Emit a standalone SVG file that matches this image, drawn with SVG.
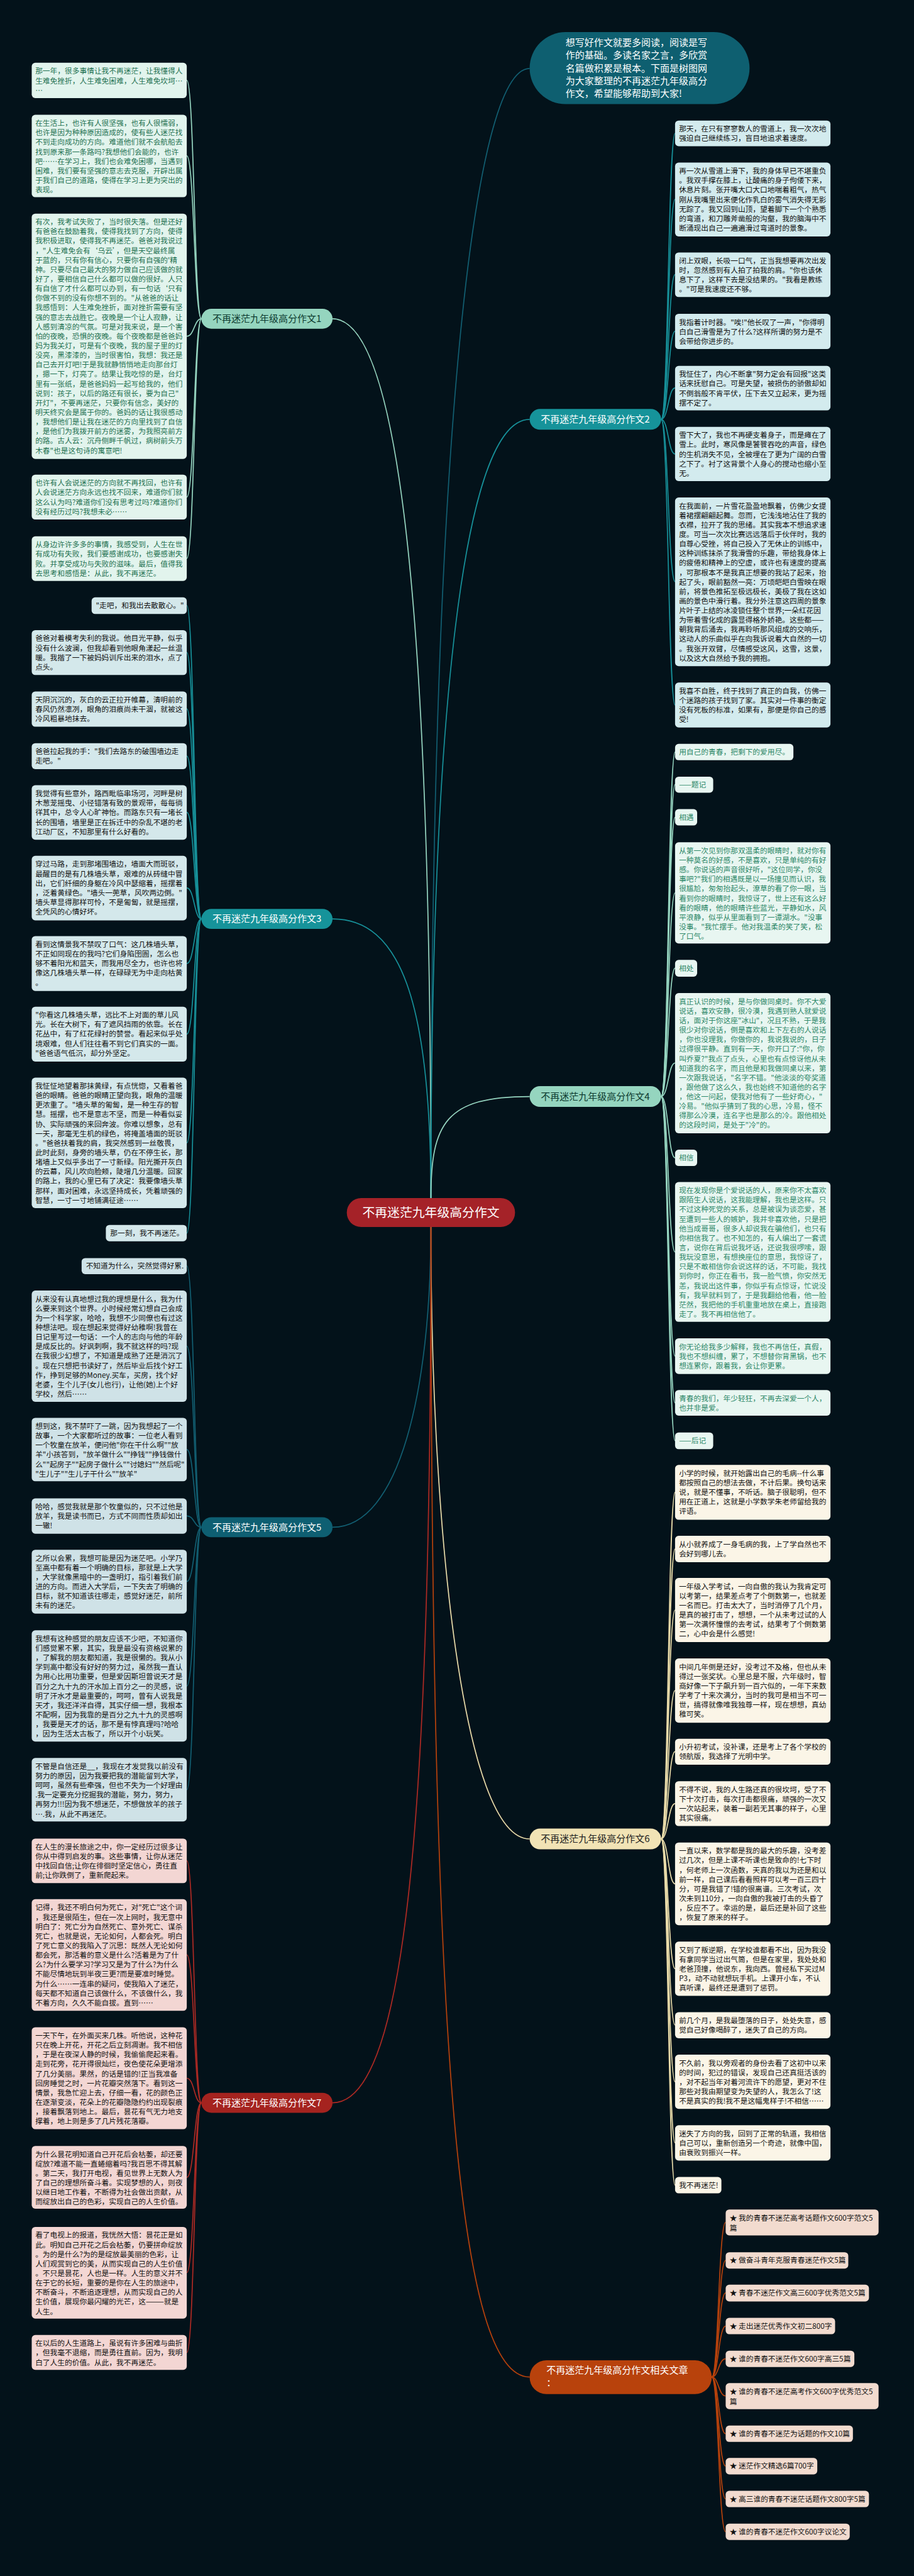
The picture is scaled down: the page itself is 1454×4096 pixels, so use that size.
<svg xmlns="http://www.w3.org/2000/svg" width="1454" height="4096" viewBox="0 0 1454 4096">
<style>
text{font-family:"Noto Sans CJK SC","Noto Sans",sans-serif;font-size:20.7px;fill:#111}
.c{fill:none;stroke-width:3}
.k1{stroke:#97d6c1}.k2{stroke:#17919a}.k5{stroke:#125f72}.k6{stroke:#eadcaa}.k7{stroke:#b02a24}.k8{stroke:#b8420c}
.b1{fill:#e2f4ed}.b2{fill:#d3ebee}.b3{fill:#d4e8eb}.b4{fill:#e8f6f1}.b5{fill:#cfe2e7}.b6{fill:#fbf5e7}.b7{fill:#f3d6d3}.b8{fill:#f2dbcf}
.g1{fill:#1f7252}.g4{fill:#2d8868}
.bn{font-size:26.5px;text-anchor:middle}
.w{fill:#ffffff}
</style>
<rect width="1454" height="4096" fill="#03121a"/>
<g transform="scale(0.567)">
<g id="connectors">
<path class="c k5" d="M1209 3360 C1209 1200 1330 192 1486 192"/>
<path class="c k1" d="M1209 3360 C1209 2000 1150 894 933 894"/>
<path class="c k2" d="M1209 3360 C1209 2000 1300 1176 1486 1176"/>
<path class="c k2" d="M1209 3360 C1209 2800 1120 2577 933 2577"/>
<path class="c k1" d="M1209 3360 C1209 3150 1250 3075 1486 3075"/>
<path class="c k5" d="M1209 3441 C1209 3900 1120 4283 933 4283"/>
<path class="c k6" d="M1209 3441 C1209 4300 1300 5157 1486 5157"/>
<path class="c k7" d="M1209 3441 C1209 5000 1150 5897 933 5897"/>
<path class="c k8" d="M1209 3441 C1209 5800 1290 6666 1486 6666"/>
<!-- 1 -->
<path class="c k1" d="M565 894 C545 894 545 225 524 225"/>
<path class="c k1" d="M565 894 C545 894 545 437 524 437"/>
<path class="c k1" d="M565 894 C545 894 545 943 524 943"/>
<path class="c k1" d="M565 894 C545 894 545 1394 524 1394"/>
<path class="c k1" d="M565 894 C545 894 545 1566 524 1566"/>
<!-- 3 -->
<path class="c k2" d="M565 2577 C545 2577 545 1698 524 1698"/>
<path class="c k2" d="M565 2577 C545 2577 545 1830 524 1830"/>
<path class="c k2" d="M565 2577 C545 2577 545 1988 524 1988"/>
<path class="c k2" d="M565 2577 C545 2577 545 2120 524 2120"/>
<path class="c k2" d="M565 2577 C545 2577 545 2278 524 2278"/>
<path class="c k2" d="M565 2577 C545 2577 545 2490 524 2490"/>
<path class="c k2" d="M565 2577 C545 2577 545 2702 524 2702"/>
<path class="c k2" d="M565 2577 C545 2577 545 2900 524 2900"/>
<path class="c k2" d="M565 2577 C545 2577 545 3205 524 3205"/>
<path class="c k2" d="M565 2577 C545 2577 545 3458 524 3458"/>
<!-- 5 -->
<path class="c k5" d="M565 4283 C545 4283 545 3550 524 3550"/>
<path class="c k5" d="M565 4283 C545 4283 545 3775 524 3775"/>
<path class="c k5" d="M565 4283 C545 4283 545 4065 524 4065"/>
<path class="c k5" d="M565 4283 C545 4283 545 4251 524 4251"/>
<path class="c k5" d="M565 4283 C545 4283 545 4435 524 4435"/>
<path class="c k5" d="M565 4283 C545 4283 545 4728 524 4728"/>
<path class="c k5" d="M565 4283 C545 4283 545 5019 524 5019"/>
<!-- 7 -->
<path class="c k7" d="M565 5897 C545 5897 545 5218 524 5218"/>
<path class="c k7" d="M565 5897 C545 5897 545 5482 524 5482"/>
<path class="c k7" d="M565 5897 C545 5897 545 5828 524 5828"/>
<path class="c k7" d="M565 5897 C545 5897 545 6106 524 6106"/>
<path class="c k7" d="M565 5897 C545 5897 545 6373 524 6373"/>
<path class="c k7" d="M565 5897 C545 5897 545 6597 524 6597"/>
<!-- 2 -->
<path class="c k2" d="M1855 1176 C1875 1176 1875 374 1894 374"/>
<path class="c k2" d="M1855 1176 C1875 1176 1875 559 1894 559"/>
<path class="c k2" d="M1855 1176 C1875 1176 1875 770 1894 770"/>
<path class="c k2" d="M1855 1176 C1875 1176 1875 929 1894 929"/>
<path class="c k2" d="M1855 1176 C1875 1176 1875 1088 1894 1088"/>
<path class="c k2" d="M1855 1176 C1875 1176 1875 1273 1894 1273"/>
<path class="c k2" d="M1855 1176 C1875 1176 1875 1631 1894 1631"/>
<path class="c k2" d="M1855 1176 C1875 1176 1875 1977 1894 1977"/>
<!-- 4 -->
<path class="c k1" d="M1855 3075 C1875 3075 1875 2109 1894 2109"/>
<path class="c k1" d="M1855 3075 C1875 3075 1875 2200 1894 2200"/>
<path class="c k1" d="M1855 3075 C1875 3075 1875 2292 1894 2292"/>
<path class="c k1" d="M1855 3075 C1875 3075 1875 2504 1894 2504"/>
<path class="c k1" d="M1855 3075 C1875 3075 1875 2715 1894 2715"/>
<path class="c k1" d="M1855 3075 C1875 3075 1875 2981 1894 2981"/>
<path class="c k1" d="M1855 3075 C1875 3075 1875 3247 1894 3247"/>
<path class="c k1" d="M1855 3075 C1875 3075 1875 3511 1894 3511"/>
<path class="c k1" d="M1855 3075 C1875 3075 1875 3803 1894 3803"/>
<path class="c k1" d="M1855 3075 C1875 3075 1875 3934 1894 3934"/>
<path class="c k1" d="M1855 3075 C1875 3075 1875 4040 1894 4040"/>
<!-- 6 -->
<path class="c k6" d="M1855 5157 C1875 5157 1875 4185 1894 4185"/>
<path class="c k6" d="M1855 5157 C1875 5157 1875 4344 1894 4344"/>
<path class="c k6" d="M1855 5157 C1875 5157 1875 4515 1894 4515"/>
<path class="c k6" d="M1855 5157 C1875 5157 1875 4741 1894 4741"/>
<path class="c k6" d="M1855 5157 C1875 5157 1875 4912 1894 4912"/>
<path class="c k6" d="M1855 5157 C1875 5157 1875 5058 1894 5058"/>
<path class="c k6" d="M1855 5157 C1875 5157 1875 5283 1894 5283"/>
<path class="c k6" d="M1855 5157 C1875 5157 1875 5521 1894 5521"/>
<path class="c k6" d="M1855 5157 C1875 5157 1875 5679 1894 5679"/>
<path class="c k6" d="M1855 5157 C1875 5157 1875 5838 1894 5838"/>
<path class="c k6" d="M1855 5157 C1875 5157 1875 6009 1894 6009"/>
<path class="c k6" d="M1855 5157 C1875 5157 1875 6128 1894 6128"/>
<!-- related -->
<path class="c k8" d="M1997 6666 C2016 6666 2016 6232 2036 6232"/>
<path class="c k8" d="M1997 6666 C2016 6666 2016 6339 2036 6339"/>
<path class="c k8" d="M1997 6666 C2016 6666 2016 6430 2036 6430"/>
<path class="c k8" d="M1997 6666 C2016 6666 2016 6523 2036 6523"/>
<path class="c k8" d="M1997 6666 C2016 6666 2016 6615 2036 6615"/>
<path class="c k8" d="M1997 6666 C2016 6666 2016 6719 2036 6719"/>
<path class="c k8" d="M1997 6666 C2016 6666 2016 6825 2036 6825"/>
<path class="c k8" d="M1997 6666 C2016 6666 2016 6916 2036 6916"/>
<path class="c k8" d="M1997 6666 C2016 6666 2016 7008 2036 7008"/>
<path class="c k8" d="M1997 6666 C2016 6666 2016 7100 2036 7100"/>
</g>

<g id="center"><rect x="973" y="3360" width="472" height="81" rx="40" fill="#a52228"/><text x="1209" y="3412" class="w" style="font-size:35px;text-anchor:middle">不再迷茫九年级高分作文</text></g>

<g id="intro"><rect x="1486" y="90" width="617" height="202" rx="101" fill="#0e5f70"/><text x="1587" y="129" class="w" style="font-size:26.5px"><tspan x="1587">想写好作文就要多阅读，阅读是写</tspan><tspan x="1587" dy="35.6">作的基础。多读名家之言，多欣赏</tspan><tspan x="1587" dy="35.6">名篇做积累是根本。下面是树图网</tspan><tspan x="1587" dy="35.6">为大家整理的不再迷茫九年级高分</tspan><tspan x="1587" dy="35.6">作文，希望能够帮助到大家!</tspan></text></g>

<g id="branch1"><rect x="565" y="866" width="368" height="56" rx="28" fill="#95d5bf"/><text x="749" y="903" class="bn" style="fill:#0d3b30">不再迷茫九年级高分作文1</text></g>
<g id="branch3"><rect x="565" y="2549" width="368" height="56" rx="28" fill="#16939a"/><text x="749" y="2586" class="bn w">不再迷茫九年级高分作文3</text></g>
<g id="branch5"><rect x="565" y="4255" width="368" height="56" rx="28" fill="#0e5f72"/><text x="749" y="4292" class="bn w">不再迷茫九年级高分作文5</text></g>
<g id="branch7"><rect x="565" y="5869" width="368" height="56" rx="28" fill="#a5231f"/><text x="749" y="5906" class="bn w">不再迷茫九年级高分作文7</text></g>
<g id="branch2"><rect x="1486" y="1147" width="369" height="58" rx="29" fill="#16939a"/><text x="1670" y="1185" class="bn w">不再迷茫九年级高分作文2</text></g>
<g id="branch4"><rect x="1486" y="3046" width="369" height="58" rx="29" fill="#95d5bf"/><text x="1670" y="3084" class="bn" style="fill:#0d3b30">不再迷茫九年级高分作文4</text></g>
<g id="branch6"><rect x="1486" y="5128" width="369" height="58" rx="29" fill="#f1e3b5"/><text x="1670" y="5166" class="bn" style="fill:#222">不再迷茫九年级高分作文6</text></g>
<g id="branch8"><rect x="1486" y="6619" width="511" height="95" rx="47" fill="#b8420c"/><text x="1533" y="6656" class="w" style="font-size:26.5px"><tspan x="1533">不再迷茫九年级高分作文相关文章</tspan><tspan x="1533" dy="36">：</tspan></text></g>

<!-- branch 1 children -->
<g id="n1a"><rect class="b1" x="89" y="176" width="435" height="99" rx="10"/><text class="g1" x="99" y="207"><tspan x="99">那一年，很多事情让我不再迷茫，让我懂得人</tspan><tspan x="99" dy="26.7">生难免挫折，人生难免困难，人生难免坎坷…</tspan><tspan x="99" dy="26.7">…</tspan></text></g>
<g id="n1b"><rect class="b1" x="89" y="322" width="435" height="231" rx="10"/><text class="g1" x="99" y="353"><tspan x="99">在生活上，也许有人很坚强，也有人很懦弱，</tspan><tspan x="99" dy="26.7">也许是因为种种原因造成的，使有些人迷茫找</tspan><tspan x="99" dy="26.7">不到走向成功的方向。难道他们就不会航船去</tspan><tspan x="99" dy="26.7">找到原来那一条路吗?我想他们会能的，也许</tspan><tspan x="99" dy="26.7">吧……在学习上，我们也会难免困哪，当遇到</tspan><tspan x="99" dy="26.7">困难，我们要有坚强的意志去克服，开辟出属</tspan><tspan x="99" dy="26.7">于我们自己的道路，使得在学习上更为突出的</tspan><tspan x="99" dy="26.7">表现。</tspan></text></g>
<g id="n1c"><rect class="b1" x="89" y="599" width="435" height="688" rx="10"/><text class="g1" x="99" y="630"><tspan x="99">有次，我考试失败了，当时很失落。但是还好</tspan><tspan x="99" dy="26.7">有爸爸在鼓励着我，使得我找到了方向，使得</tspan><tspan x="99" dy="26.7">我积极进取，使得我不再迷茫。爸爸对我说过</tspan><tspan x="99" dy="26.7">，"人生难免会有‘乌云’，但是天空最终属</tspan><tspan x="99" dy="26.7">于蓝的，只有你有信心，只要你有自强的'精</tspan><tspan x="99" dy="26.7">神。只要尽自己最大的努力做自己应该做的就</tspan><tspan x="99" dy="26.7">好了，要相信自己什么都可以做的很好。人只</tspan><tspan x="99" dy="26.7">有自信了才什么都可以办到，有一句话‘只有</tspan><tspan x="99" dy="26.7">你做不到的没有你想不到的。"从爸爸的话让</tspan><tspan x="99" dy="26.7">我感悟到：人生难免挫折，面对挫折需要有坚</tspan><tspan x="99" dy="26.7">强的意志去战胜它。夜晚是一个让人寂静，让</tspan><tspan x="99" dy="26.7">人感到清凉的气氛。可是对我来说，是一个害</tspan><tspan x="99" dy="26.7">怕的夜晚，恐惧的夜晚。每个夜晚都是爸爸妈</tspan><tspan x="99" dy="26.7">妈为我关灯，可是有个夜晚，我的屋子里的灯</tspan><tspan x="99" dy="26.7">没亮，黑漆漆的，当时很害怕，我想：我还是</tspan><tspan x="99" dy="26.7">自己去开灯吧!于是我就静悄悄地走向那台灯</tspan><tspan x="99" dy="26.7">，摁一下，灯亮了。结果让我吃惊的是，台灯</tspan><tspan x="99" dy="26.7">里有一张纸，是爸爸妈妈一起写给我的，他们</tspan><tspan x="99" dy="26.7">说到：孩子，以后的路还有很长，要为自己"</tspan><tspan x="99" dy="26.7">开灯"，不要再迷茫，只要你有信念，美好的</tspan><tspan x="99" dy="26.7">明天终究会是属于你的。爸妈的话让我很感动</tspan><tspan x="99" dy="26.7">，我想他们是让我在迷茫的方向里找到了自信</tspan><tspan x="99" dy="26.7">，是他们为我拨开前方的迷雾，为我照亮前方</tspan><tspan x="99" dy="26.7">的路。古人云：沉舟侧畔千帆过，病树前头万</tspan><tspan x="99" dy="26.7">木春"也是这句诗的寓意吧!</tspan></text></g>
<g id="n1d"><rect class="b1" x="89" y="1331" width="435" height="126" rx="10"/><text class="g1" x="99" y="1362"><tspan x="99">也许有人会说迷茫的方向就不再找回，也许有</tspan><tspan x="99" dy="26.7">人会说迷茫方向永远也找不回来，难道你们就</tspan><tspan x="99" dy="26.7">这么认为吗?难道你们没有思考过吗?难道你们</tspan><tspan x="99" dy="26.7">没有经历过吗?我想未必……</tspan></text></g>
<g id="n1e"><rect class="b1" x="89" y="1504" width="435" height="125" rx="10"/><text class="g1" x="99" y="1535"><tspan x="99">从身边许许多多的事情，我感受到，人生在世</tspan><tspan x="99" dy="26.7">有成功有失败，我们要感谢成功，也要感谢失</tspan><tspan x="99" dy="26.7">败。并享受成功与失败的滋味。最后，值得我</tspan><tspan x="99" dy="26.7">去思考和感悟是：从此，我不再迷茫。</tspan></text></g>

<!-- branch 3 children -->
<g id="n3a"><rect class="b3" x="257" y="1675" width="267" height="47" rx="10"/><text x="269" y="1706">"走吧，和我出去散散心。"</text></g>
<g id="n3b"><rect class="b3" x="89" y="1767" width="435" height="126" rx="10"/><text x="99" y="1798"><tspan x="99">爸爸对着模考失利的我说。他目光平静，似乎</tspan><tspan x="99" dy="26.7">没有什么波澜，但我却看到他眼角漾起一丝温</tspan><tspan x="99" dy="26.7">暖。我揩了一下被妈妈训斥出来的泪水，点了</tspan><tspan x="99" dy="26.7">点头。</tspan></text></g>
<g id="n3c"><rect class="b3" x="89" y="1939" width="435" height="99" rx="10"/><text x="99" y="1970"><tspan x="99">天阴沉沉的，灰白的云正拉开帷幕，清明前的</tspan><tspan x="99" dy="26.7">春风仍然凛冽，眼角的泪痕尚未干涸，就被这</tspan><tspan x="99" dy="26.7">冷风粗暴地抹去。</tspan></text></g>
<g id="n3d"><rect class="b3" x="89" y="2084" width="435" height="73" rx="10"/><text x="99" y="2115"><tspan x="99">爸爸拉起我的手："我们去路东的破围墙边走</tspan><tspan x="99" dy="26.7">走吧。"</tspan></text></g>
<g id="n3e"><rect class="b3" x="89" y="2202" width="435" height="153" rx="10"/><text x="99" y="2233"><tspan x="99">我觉得有些意外，路西毗临串场河，河畔是树</tspan><tspan x="99" dy="26.7">木葱茏摇曳、小径错落有致的景观带，每每徜</tspan><tspan x="99" dy="26.7">徉其中，总令人心旷神怡。而路东只有一堵长</tspan><tspan x="99" dy="26.7">长的围墙，墙里是正在拆迁中的杂乱不堪的老</tspan><tspan x="99" dy="26.7">江动厂区，不知那里有什么好看的。</tspan></text></g>
<g id="n3f"><rect class="b3" x="89" y="2400" width="435" height="181" rx="10"/><text x="99" y="2431"><tspan x="99">穿过马路，走到那堵围墙边，墙面大而斑驳，</tspan><tspan x="99" dy="26.7">最醒目的是有几株墙头草，艰难的从砖缝中冒</tspan><tspan x="99" dy="26.7">出，它们纤细的身躯在冷风中瑟缩着，摇摆着</tspan><tspan x="99" dy="26.7">，泛着黄绿色。"墙头一蔸草，风吹两边倒。"</tspan><tspan x="99" dy="26.7">墙头草显得那样可怜，不是匍匐，就是摇摆，</tspan><tspan x="99" dy="26.7">全凭风的心情好坏。</tspan></text></g>
<g id="n3g"><rect class="b3" x="89" y="2625" width="435" height="154" rx="10"/><text x="99" y="2656"><tspan x="99">看到这情景我不禁叹了口气：这几株墙头草，</tspan><tspan x="99" dy="26.7">不正如同现在的我吗?它们身陷囹圄，怎么也</tspan><tspan x="99" dy="26.7">够不着阳光和蓝天，而我用尽全力，也许也将</tspan><tspan x="99" dy="26.7">像这几株墙头草一样，在碌碌无为中走向枯黄</tspan><tspan x="99" dy="26.7">。</tspan></text></g>
<g id="n3h"><rect class="b3" x="89" y="2823" width="435" height="154" rx="10"/><text x="99" y="2854"><tspan x="99">"你看这几株墙头草，远比不上对面的草儿风</tspan><tspan x="99" dy="26.7">光。长在大树下，有了遮风挡雨的依靠。长在</tspan><tspan x="99" dy="26.7">花丛中，有了红花绿衬的赞誉。看起来似乎处</tspan><tspan x="99" dy="26.7">境艰难，但人们往往看不到它们真实的一面。</tspan><tspan x="99" dy="26.7">"爸爸语气低沉，却分外坚定。</tspan></text></g>
<g id="n3i"><rect class="b3" x="89" y="3022" width="435" height="366" rx="10"/><text x="99" y="3053"><tspan x="99">我怔怔地望着那抹黄绿，有点恍惚，又看着爸</tspan><tspan x="99" dy="26.7">爸的眼睛。爸爸的眼睛正望向我，眼角的温暖</tspan><tspan x="99" dy="26.7">更浓重了。"墙头草的匍匐，是一种生存的智</tspan><tspan x="99" dy="26.7">慧。摇摆，也不是意志不坚，而是一种看似妥</tspan><tspan x="99" dy="26.7">协、实际顽强的来回奔波。你难以想象，总有</tspan><tspan x="99" dy="26.7">一天，那毫无生机的绿色，将掩盖墙面的斑驳</tspan><tspan x="99" dy="26.7">。"爸爸扶着我的肩，我突然感到一丝敬畏，</tspan><tspan x="99" dy="26.7">此时此刻，身旁的墙头草，仍在不停生长，那</tspan><tspan x="99" dy="26.7">堵墙上又似乎多出了一寸新绿。阳光撕开灰白</tspan><tspan x="99" dy="26.7">的云幕，风儿吹向脸颊，陡增几分温暖。回家</tspan><tspan x="99" dy="26.7">的路上，我的心里已有了决定：我要像墙头草</tspan><tspan x="99" dy="26.7">那样，面对困难，永远坚持成长，凭着顽强的</tspan><tspan x="99" dy="26.7">智慧，一寸一寸地铺满征途……</tspan></text></g>
<g id="n3j"><rect class="b3" x="297" y="3435" width="227" height="46" rx="10"/><text x="309" y="3466">那一刻，我不再迷茫。</text></g>

<!-- branch 5 children -->
<g id="n5a"><rect class="b5" x="229" y="3528" width="295" height="45" rx="10"/><text x="241" y="3558">不知道为什么，突然觉得好累.</text></g>
<g id="n5b"><rect class="b5" x="89" y="3619" width="435" height="312" rx="10"/><text x="99" y="3650"><tspan x="99">从来没有认真地想过我的理想是什么，我为什</tspan><tspan x="99" dy="26.7">么要来到这个世界。小时候经常幻想自己会成</tspan><tspan x="99" dy="26.7">为一个科学家，哈哈，我想不少同僚也有过这</tspan><tspan x="99" dy="26.7">种想法吧。现在想起来觉得好幼稚啊!我曾在</tspan><tspan x="99" dy="26.7">日记里写过一句话：一个人的志向与他的年龄</tspan><tspan x="99" dy="26.7">是成反比的。好讽刺啊，我不就这样的吗?现</tspan><tspan x="99" dy="26.7">在我很少幻想了，不知道是成熟了还是消沉了</tspan><tspan x="99" dy="26.7">。现在只想把书读好了，然后毕业后找个好工</tspan><tspan x="99" dy="26.7">作，挣到足够的Money.买车，买房，找个好</tspan><tspan x="99" dy="26.7">老婆，生个儿子(女儿也行)，让他(她)上个好</tspan><tspan x="99" dy="26.7">学校，然后……</tspan></text></g>
<g id="n5c"><rect class="b5" x="89" y="3976" width="435" height="178" rx="10"/><text x="99" y="4007"><tspan x="99">想到这，我不禁吓了一跳，因为我想起了一个</tspan><tspan x="99" dy="26.7">故事，一个大家都听过的故事：一位老人看到</tspan><tspan x="99" dy="26.7">一个牧童在放羊，便问他"你在干什么啊""放</tspan><tspan x="99" dy="26.7">羊"小孩答到，"放羊做什么""挣钱""挣钱做什</tspan><tspan x="99" dy="26.7">么""起房子""起房子做什么""讨媳妇""然后呢"</tspan><tspan x="99" dy="26.7">"生儿子""生儿子干什么""放羊"</tspan></text></g>
<g id="n5d"><rect class="b5" x="89" y="4202" width="435" height="99" rx="10"/><text x="99" y="4233"><tspan x="99">哈哈，感觉我就是那个牧童似的，只不过他是</tspan><tspan x="99" dy="26.7">放羊，我是读书而已，方式不同而性质却如出</tspan><tspan x="99" dy="26.7">一辙!</tspan></text></g>
<g id="n5e"><rect class="b5" x="89" y="4346" width="435" height="179" rx="10"/><text x="99" y="4377"><tspan x="99">之所以会累，我想可能是因为迷茫吧。小学乃</tspan><tspan x="99" dy="26.7">至高中都有着一个明确的目标，那就是上大学</tspan><tspan x="99" dy="26.7">，大学就像黑暗中的一盏明灯，指引着我们前</tspan><tspan x="99" dy="26.7">进的方向。而进入大学后，一下失去了明确的</tspan><tspan x="99" dy="26.7">目标，就不知道该往哪走，感觉好迷茫，前所</tspan><tspan x="99" dy="26.7">未有的迷茫。</tspan></text></g>
<g id="n5f"><rect class="b5" x="89" y="4572" width="435" height="312" rx="10"/><text x="99" y="4603"><tspan x="99">我想有这种感觉的朋友应该不少吧，不知道你</tspan><tspan x="99" dy="26.7">们感觉累不累，其实，我是最没有资格说累的</tspan><tspan x="99" dy="26.7">，了解我的朋友都知道，我是很懒的。我从小</tspan><tspan x="99" dy="26.7">学到高中都没有好好的努力过，虽然我一直认</tspan><tspan x="99" dy="26.7">为用心比用功重要，但是爱因斯坦曾说天才是</tspan><tspan x="99" dy="26.7">百分之九十九的汗水加上百分之一的灵感，说</tspan><tspan x="99" dy="26.7">明了汗水才是最重要的，呵呵，曾有人说我是</tspan><tspan x="99" dy="26.7">天才，我还洋洋自得，其实仔细一想，我根本</tspan><tspan x="99" dy="26.7">不配啊，因为我靠的是百分之九十九的灵感啊</tspan><tspan x="99" dy="26.7">，我要是天才的话，那不是有悖真理吗?哈哈</tspan><tspan x="99" dy="26.7">，因为生活太古板了，所以开个小玩笑。</tspan></text></g>
<g id="n5g"><rect class="b5" x="89" y="4930" width="435" height="178" rx="10"/><text x="99" y="4961"><tspan x="99">不管是自信还是__，我现在才发觉我以前没有</tspan><tspan x="99" dy="26.7">努力的原因，因为我要把我的潜能留到大学，</tspan><tspan x="99" dy="26.7">呵呵，虽然有些牵强，但也不失为一个好理由</tspan><tspan x="99" dy="26.7">.我一定要充分挖掘我的潜能，努力，努力，</tspan><tspan x="99" dy="26.7">再努力!!!因为我不想迷茫，不想做放羊的孩子</tspan><tspan x="99" dy="26.7">….我，从此不再迷茫。</tspan></text></g>

<!-- branch 7 children -->
<g id="n7a"><rect class="b7" x="89" y="5156" width="435" height="125" rx="10"/><text x="99" y="5187"><tspan x="99">在人生的漫长旅途之中，你一定经历过很多让</tspan><tspan x="99" dy="26.7">你从中得到启发的事。这些事情，让你从迷茫</tspan><tspan x="99" dy="26.7">中找回自信;让你在徘徊时坚定信心，勇往直</tspan><tspan x="99" dy="26.7">前;让你跌倒了，重新爬起来。</tspan></text></g>
<g id="n7b"><rect class="b7" x="89" y="5326" width="435" height="313" rx="10"/><text x="99" y="5357"><tspan x="99">记得，我还不明白何为死亡，对"死亡"这个词</tspan><tspan x="99" dy="26.7">，我还是很陌生，但在一次上网时，我无意中</tspan><tspan x="99" dy="26.7">明白了：死亡分为自然死亡、意外死亡、谋杀</tspan><tspan x="99" dy="26.7">死亡，也就是说，无论如何，人都会死。明白</tspan><tspan x="99" dy="26.7">了死亡意义的我陷入了沉思：既然人无论如何</tspan><tspan x="99" dy="26.7">都会死，那活着的意义是什么?活着是为了什</tspan><tspan x="99" dy="26.7">么?为什么要学习?学习又是为了什么?为什么</tspan><tspan x="99" dy="26.7">不能尽情地玩到半夜三更?而是要准时睡觉。</tspan><tspan x="99" dy="26.7">为什么……一连串的疑问，使我陷入了迷茫，</tspan><tspan x="99" dy="26.7">每天都不知道自己该做什么，不该做什么，我</tspan><tspan x="99" dy="26.7">不着方向，久久不能自拔。直到……</tspan></text></g>
<g id="n7c"><rect class="b7" x="89" y="5685" width="435" height="286" rx="10"/><text x="99" y="5716"><tspan x="99">一天下午，在外面买来几株。听他说，这种花</tspan><tspan x="99" dy="26.7">只在晚上开花，开花之后立刻凋谢。我不相信</tspan><tspan x="99" dy="26.7">，于是在夜深人静的时候，我偷偷爬起来看。</tspan><tspan x="99" dy="26.7">走到花旁，花开得很灿烂，夜色使花朵更增添</tspan><tspan x="99" dy="26.7">了几分美丽。果然，的话是错的!正当我准备</tspan><tspan x="99" dy="26.7">回房睡觉之时，一片花瓣突然落下。看到这一</tspan><tspan x="99" dy="26.7">情景，我急忙迎上去，仔细一看，花的颜色正</tspan><tspan x="99" dy="26.7">在逐渐变淡，花朵上的花瓣隐隐约约出现裂痕</tspan><tspan x="99" dy="26.7">，接着飘落到地上。最后，昙花有气无力地支</tspan><tspan x="99" dy="26.7">撑着，地上则是多了几片残花落瓣。</tspan></text></g>
<g id="n7d"><rect class="b7" x="89" y="6018" width="435" height="176" rx="10"/><text x="99" y="6049"><tspan x="99">为什么昙花明知道自己开花后会枯萎，却还要</tspan><tspan x="99" dy="26.7">绽放?难道不能一直蜷缩着吗?我百思不得其解</tspan><tspan x="99" dy="26.7">。第二天，我打开电视，看见世界上无数人为</tspan><tspan x="99" dy="26.7">了自己的理想所奋斗着。实现梦想的人，则夜</tspan><tspan x="99" dy="26.7">以继日地工作着，不断得为社会做出贡献，从</tspan><tspan x="99" dy="26.7">而绽放出自己的色彩，实现自己的人生价值。</tspan></text></g>
<g id="n7e"><rect class="b7" x="89" y="6245" width="435" height="257" rx="10"/><text x="99" y="6276"><tspan x="99">看了电视上的报道，我恍然大悟：昙花正是如</tspan><tspan x="99" dy="26.7">此。明知自己开花之后会枯萎，仍要拼命绽放</tspan><tspan x="99" dy="26.7">。为的是什么?为的是绽放最美丽的色彩，让</tspan><tspan x="99" dy="26.7">人们观赏到它的美，从而实现自己的人生价值</tspan><tspan x="99" dy="26.7">。不只是昙花，人也是一样。人生的意义并不</tspan><tspan x="99" dy="26.7">在于它的长短，重要的是你在人生的旅途中，</tspan><tspan x="99" dy="26.7">不断奋斗，不断追逐理想，从而实现自己的人</tspan><tspan x="99" dy="26.7">生价值，展现你最闪耀的光芒，这———就是</tspan><tspan x="99" dy="26.7">人生。</tspan></text></g>
<g id="n7f"><rect class="b7" x="89" y="6548" width="435" height="98" rx="10"/><text x="99" y="6579"><tspan x="99">在以后的人生道路上，虽说有许多困难与曲折</tspan><tspan x="99" dy="26.7">，但我毫不退缩，而是勇往直前。因为，我明</tspan><tspan x="99" dy="26.7">白了人生的价值。从此，我不再迷茫。</tspan></text></g>

<!-- branch 2 children -->
<g id="n2a"><rect class="b2" x="1894" y="338" width="436" height="72" rx="10"/><text x="1905" y="369"><tspan x="1905">那天，在只有寥寥数人的雪道上，我一次次地</tspan><tspan x="1905" dy="26.7">强迫自己继续练习，盲目地追求着速度。</tspan></text></g>
<g id="n2b"><rect class="b2" x="1894" y="456" width="436" height="207" rx="10"/><text x="1905" y="487"><tspan x="1905">再一次从雪道上滑下，我的身体早已不堪重负</tspan><tspan x="1905" dy="26.7">。我双手撑在膝上，让酸痛的身子佝偻下来，</tspan><tspan x="1905" dy="26.7">休息片刻。张开嘴大口大口地喘着粗气，热气</tspan><tspan x="1905" dy="26.7">刚从我嘴里出来便化作乳白的雾气消失得无影</tspan><tspan x="1905" dy="26.7">无踪了。我又回到山顶，望着脚下一个个熟悉</tspan><tspan x="1905" dy="26.7">的弯道，和刀雕斧凿般的沟壑，我的脑海中不</tspan><tspan x="1905" dy="26.7">断涌现出自己一遍遍滑过弯道时的景象。</tspan></text></g>
<g id="n2c"><rect class="b2" x="1894" y="708" width="436" height="125" rx="10"/><text x="1905" y="739"><tspan x="1905">闭上双眼，长吸一口气，正当我想要再次出发</tspan><tspan x="1905" dy="26.7">时，忽然感到有人拍了拍我的肩。"你也该休</tspan><tspan x="1905" dy="26.7">息下了，这样下去是没结果的。"我看是教练</tspan><tspan x="1905" dy="26.7">。"可是我速度还不够。</tspan></text></g>
<g id="n2d"><rect class="b2" x="1894" y="880" width="436" height="99" rx="10"/><text x="1905" y="911"><tspan x="1905">我指着计时器。"唉!"他长叹了一声，"你得明</tspan><tspan x="1905" dy="26.7">白自己滑雪是为了什么?这样所谓的努力是不</tspan><tspan x="1905" dy="26.7">会带给你进步的。</tspan></text></g>
<g id="n2e"><rect class="b2" x="1894" y="1026" width="436" height="125" rx="10"/><text x="1905" y="1057"><tspan x="1905">我怔住了，内心不断拿"努力定会有回报"这类</tspan><tspan x="1905" dy="26.7">话来抚慰自己。可是失望，被损伤的骄傲却如</tspan><tspan x="1905" dy="26.7">不倒翁般不肯平伏，压下去又立起来，更为摇</tspan><tspan x="1905" dy="26.7">摆不定了。</tspan></text></g>
<g id="n2f"><rect class="b2" x="1894" y="1197" width="436" height="152" rx="10"/><text x="1905" y="1228"><tspan x="1905">雪下大了，我也不再硬支着身子，而是瘫在了</tspan><tspan x="1905" dy="26.7">雪上。此时，寒风像是饕餮吞吃的声音，绿色</tspan><tspan x="1905" dy="26.7">的生机消失不见，全被埋在了更为广阔的白雪</tspan><tspan x="1905" dy="26.7">之下了。衬了这背景个人身心的搅动也缩小至</tspan><tspan x="1905" dy="26.7">无。</tspan></text></g>
<g id="n2g"><rect class="b2" x="1894" y="1395" width="436" height="473" rx="10"/><text x="1905" y="1426"><tspan x="1905">在我面前，一片雪花盈盈地飘着，仿佛少女提</tspan><tspan x="1905" dy="26.7">着裙摆翩翩起舞。忽而，它浅浅地沾住了我的</tspan><tspan x="1905" dy="26.7">衣襟，拉开了我的思绪。其实我本不想追求速</tspan><tspan x="1905" dy="26.7">度。可当一次次比赛远远落后于伙伴时，我的</tspan><tspan x="1905" dy="26.7">自尊心受挫，将自己投入了无休止的训练中，</tspan><tspan x="1905" dy="26.7">这种训练抹杀了我滑雪的乐趣，带给我身体上</tspan><tspan x="1905" dy="26.7">的疲倦和精神上的空虚，或许也有速度的提高</tspan><tspan x="1905" dy="26.7">，可那根本不是我真正想要的我站了起来，抬</tspan><tspan x="1905" dy="26.7">起了头，眼前豁然一亮：万顷皑皑白雪映在眼</tspan><tspan x="1905" dy="26.7">前，将景色推拓至极远极长，美极了我在这如</tspan><tspan x="1905" dy="26.7">画的景色中滑行着。我分外注意这四周的景象</tspan><tspan x="1905" dy="26.7">片叶子上结的冰凌锁住整个世界;一朵红花因</tspan><tspan x="1905" dy="26.7">为带着雪化成的露显得格外娇艳。这些都——</tspan><tspan x="1905" dy="26.7">朝我背后涌去，我再聆听那风组成的交响乐，</tspan><tspan x="1905" dy="26.7">这动人的乐曲似乎在向我诉说着大自然的一切</tspan><tspan x="1905" dy="26.7">。我张开双臂，尽情感受这风，这雪，这景，</tspan><tspan x="1905" dy="26.7">以及这大自然给予我的拥抱。</tspan></text></g>
<g id="n2h"><rect class="b2" x="1894" y="1914" width="436" height="126" rx="10"/><text x="1905" y="1945"><tspan x="1905">我喜不自胜，终于找到了真正的自我，仿佛一</tspan><tspan x="1905" dy="26.7">个迷路的孩子找到了家。其实对一件事的衡定</tspan><tspan x="1905" dy="26.7">没有死板的标准，如果有，那便是你自己的感</tspan><tspan x="1905" dy="26.7">受!</tspan></text></g>

<!-- branch 4 children -->
<g id="n4a"><rect class="b4" x="1894" y="2086" width="332" height="46" rx="10"/><text class="g4" x="1905" y="2116">用自己的青春，把剩下的爱用尽。</text></g>
<g id="n4b"><rect class="b4" x="1894" y="2178" width="107" height="45" rx="10"/><text class="g4" x="1905" y="2208">——题记</text></g>
<g id="n4c"><rect class="b4" x="1894" y="2269" width="62" height="46" rx="10"/><text class="g4" x="1905" y="2299">相遇</text></g>
<g id="n4d"><rect class="b4" x="1894" y="2362" width="436" height="284" rx="10"/><text class="g4" x="1905" y="2393"><tspan x="1905">从第一次见到你那双温柔的眼睛时，就对你有</tspan><tspan x="1905" dy="26.7">一种莫名的好感，不是喜欢，只是单纯的有好</tspan><tspan x="1905" dy="26.7">感。你说话的声音很好听，"这位同学，你没</tspan><tspan x="1905" dy="26.7">事吧?"我们的相遇既是以一场撞见而认识，我</tspan><tspan x="1905" dy="26.7">很尴尬，匆匆抬起头，潦草的看了你一眼，当</tspan><tspan x="1905" dy="26.7">看到你的眼睛时，我惊讶了，世上还有这么好</tspan><tspan x="1905" dy="26.7">看的眼睛，他的眼睛许些蓝光，平静如水，风</tspan><tspan x="1905" dy="26.7">平浪静，似乎从里面看到了一谭湖水。"没事</tspan><tspan x="1905" dy="26.7">没事。"我忙摆手。他对我温柔的笑了笑，松</tspan><tspan x="1905" dy="26.7">了口气。</tspan></text></g>
<g id="n4e"><rect class="b4" x="1894" y="2692" width="62" height="47" rx="10"/><text class="g4" x="1905" y="2723">相处</text></g>
<g id="n4f"><rect class="b4" x="1894" y="2785" width="436" height="393" rx="10"/><text class="g4" x="1905" y="2816"><tspan x="1905">真正认识的时候，是与你做同桌时。你不大爱</tspan><tspan x="1905" dy="26.7">说话，喜欢安静，很冷漠，我遇到熟人就爱说</tspan><tspan x="1905" dy="26.7">话，面对于你这座"冰山"，况且不熟，于是我</tspan><tspan x="1905" dy="26.7">很少对你说话，倒是喜欢和上下左右的人说话</tspan><tspan x="1905" dy="26.7">，你也没理我，你做你的，我说我说的，日子</tspan><tspan x="1905" dy="26.7">过得很平静。直到有一天，你开口了:"你，你</tspan><tspan x="1905" dy="26.7">叫乔夏?"我点了点头，心里也有点惊讶他从未</tspan><tspan x="1905" dy="26.7">知道我的名字，而且他是和我做同桌以来，第</tspan><tspan x="1905" dy="26.7">一次跟我说话，"名字不错。"他淡淡的夸奖道</tspan><tspan x="1905" dy="26.7">，跟他做了这么久，我也始终不知道他的名字</tspan><tspan x="1905" dy="26.7">，他这一问起，使我对他有了一些好奇心，"</tspan><tspan x="1905" dy="26.7">冷易。"他似乎猜到了我的心思，冷易，怪不</tspan><tspan x="1905" dy="26.7">得那么冷漠，连名字也是那么的冷。跟他相处</tspan><tspan x="1905" dy="26.7">的这段时间，是处于"冷"的。</tspan></text></g>
<g id="n4g"><rect class="b4" x="1894" y="3224" width="62" height="46" rx="10"/><text class="g4" x="1905" y="3254">相信</text></g>
<g id="n4h"><rect class="b4" x="1894" y="3315" width="436" height="392" rx="10"/><text class="g4" x="1905" y="3346"><tspan x="1905">现在发现你是个爱说话的人，原来你不太喜欢</tspan><tspan x="1905" dy="26.7">跟陌生人说话，这我能理解，我也是这样。只</tspan><tspan x="1905" dy="26.7">不过这种死党的关系，总是被误为谈恋爱，甚</tspan><tspan x="1905" dy="26.7">至遭到一些人的嫉妒，我并非喜欢他，只是把</tspan><tspan x="1905" dy="26.7">他当成哥哥，很多人却说我在骗他们，也只有</tspan><tspan x="1905" dy="26.7">你相信我了。也不知怎的，有人编出了一套谎</tspan><tspan x="1905" dy="26.7">言，说你在背后说我坏话，还说我很啰嗦，跟</tspan><tspan x="1905" dy="26.7">我玩没意思，有想换座位的意思，我惊讶了，</tspan><tspan x="1905" dy="26.7">只是不敢相信你会说这样的话，不可能，我找</tspan><tspan x="1905" dy="26.7">到你时，你正在看书，我一脸气愤，你安然无</tspan><tspan x="1905" dy="26.7">恙，我说出这件事，你似乎有点惊讶，忙说没</tspan><tspan x="1905" dy="26.7">有，我早就料到了，于是我翻给他看，他一脸</tspan><tspan x="1905" dy="26.7">茫然，我把他的手机重重地放在桌上，直接跑</tspan><tspan x="1905" dy="26.7">走了。我不再相信他了。</tspan></text></g>
<g id="n4i"><rect class="b4" x="1894" y="3753" width="436" height="100" rx="10"/><text class="g4" x="1905" y="3784"><tspan x="1905">你无论给我多少解释，我也不再信任，真假，</tspan><tspan x="1905" dy="26.7">我也不想纠缠，累了，不想替你背黑锅，也不</tspan><tspan x="1905" dy="26.7">想连累你，跟着我，会让你更累。</tspan></text></g>
<g id="n4j"><rect class="b4" x="1894" y="3898" width="436" height="72" rx="10"/><text class="g4" x="1905" y="3929"><tspan x="1905">青春的我们，年少轻狂，不再去深爱一个人，</tspan><tspan x="1905" dy="26.7">也并非是爱。</tspan></text></g>
<g id="n4k"><rect class="b4" x="1894" y="4017" width="107" height="47" rx="10"/><text class="g4" x="1905" y="4048">——后记</text></g>

<!-- branch 6 children -->
<g id="n6a"><rect class="b6" x="1894" y="4108" width="436" height="154" rx="10"/><text x="1905" y="4139"><tspan x="1905">小学的时候，就开始露出自己的毛病--什么事</tspan><tspan x="1905" dy="26.7">都按照自己的想法去做，不计后果。换句话来</tspan><tspan x="1905" dy="26.7">说，就是不懂事，不听话。脑子很聪明，但不</tspan><tspan x="1905" dy="26.7">用在正道上，这就是小学数学朱老师留给我的</tspan><tspan x="1905" dy="26.7">评语。</tspan></text></g>
<g id="n6b"><rect class="b6" x="1894" y="4307" width="436" height="74" rx="10"/><text x="1905" y="4338"><tspan x="1905">从小就养成了一身毛病的我，上了学自然也不</tspan><tspan x="1905" dy="26.7">会好到哪儿去。</tspan></text></g>
<g id="n6c"><rect class="b6" x="1894" y="4425" width="436" height="180" rx="10"/><text x="1905" y="4456"><tspan x="1905">一年级入学考试，一向自傲的我认为我肯定可</tspan><tspan x="1905" dy="26.7">以考第一，结果差点考了个倒数第一，也就差</tspan><tspan x="1905" dy="26.7">一名而已。打击太大了，当时消停了几个月，</tspan><tspan x="1905" dy="26.7">是真的被打击了，想想，一个从未考过试的人</tspan><tspan x="1905" dy="26.7">第一次满怀憧憬的去考试，结果考了个倒数第</tspan><tspan x="1905" dy="26.7">二，心中会是什么感觉!</tspan></text></g>
<g id="n6d"><rect class="b6" x="1894" y="4651" width="436" height="180" rx="10"/><text x="1905" y="4682"><tspan x="1905">中间几年倒是还好，没考过不及格，但也从未</tspan><tspan x="1905" dy="26.7">得过一张奖状。心里总是不服，六年级时，智</tspan><tspan x="1905" dy="26.7">商好像一下子飙升到一百六似的，一年下来数</tspan><tspan x="1905" dy="26.7">学考了十来次满分，当时的我可是相当不可一</tspan><tspan x="1905" dy="26.7">世，搞得就像唯我独尊一样，现在想想，真幼</tspan><tspan x="1905" dy="26.7">稚可笑。</tspan></text></g>
<g id="n6e"><rect class="b6" x="1894" y="4876" width="436" height="73" rx="10"/><text x="1905" y="4907"><tspan x="1905">小升初考试，没补课，还是考上了各个学校的</tspan><tspan x="1905" dy="26.7">领航版，我选择了光明中学。</tspan></text></g>
<g id="n6f"><rect class="b6" x="1894" y="4995" width="436" height="126" rx="10"/><text x="1905" y="5026"><tspan x="1905">不得不说，我的人生路还真的很坎坷，受了不</tspan><tspan x="1905" dy="26.7">下十次打击，每次打击都很痛，顽强的一次又</tspan><tspan x="1905" dy="26.7">一次站起来，装着一副若无其事的样子，心里</tspan><tspan x="1905" dy="26.7">其实很痛。</tspan></text></g>
<g id="n6g"><rect class="b6" x="1894" y="5167" width="436" height="232" rx="10"/><text x="1905" y="5198"><tspan x="1905">一直以来，数学都是我的最大的乐趣，没考差</tspan><tspan x="1905" dy="26.7">过几次，但是上课不听课也是致命的!七下时</tspan><tspan x="1905" dy="26.7">，何老师上一次函数，天真的我以为还是和以</tspan><tspan x="1905" dy="26.7">前一样，自己课后看看照样可以考一百三四十</tspan><tspan x="1905" dy="26.7">分，可是我错了!错的很离谱。三次考试，次</tspan><tspan x="1905" dy="26.7">次未到110分，一向自傲的我被打击的头昏了</tspan><tspan x="1905" dy="26.7">，反应不了。幸运的是，最后还是补回了这些</tspan><tspan x="1905" dy="26.7">，恢复了原来的样子。</tspan></text></g>
<g id="n6h"><rect class="b6" x="1894" y="5445" width="436" height="152" rx="10"/><text x="1905" y="5476"><tspan x="1905">又到了叛逆期，在学校谁都看不出，因为我没</tspan><tspan x="1905" dy="26.7">有拿同学当过出气筒，但是在家里，我处处和</tspan><tspan x="1905" dy="26.7">老爸顶撞，他说东，我向西。曾经私下买过M</tspan><tspan x="1905" dy="26.7">P3，动不动就想玩手机。上课开小车，不认</tspan><tspan x="1905" dy="26.7">真听课，最终还是遭到了惩罚。</tspan></text></g>
<g id="n6i"><rect class="b6" x="1894" y="5643" width="436" height="73" rx="10"/><text x="1905" y="5674"><tspan x="1905">前几个月，是我最堕落的日子，处处失意，感</tspan><tspan x="1905" dy="26.7">觉自己好像喝醉了，迷失了自己的方向。</tspan></text></g>
<g id="n6j"><rect class="b6" x="1894" y="5762" width="436" height="152" rx="10"/><text x="1905" y="5793"><tspan x="1905">不久前，我以旁观者的身份去看了这初中以来</tspan><tspan x="1905" dy="26.7">的时间，犯过的错误，发现自己还真挺活该的</tspan><tspan x="1905" dy="26.7">，对不起当年对着河流许下的愿望，更对不住</tspan><tspan x="1905" dy="26.7">那些对我由期望变为失望的人，我怎么了!这</tspan><tspan x="1905" dy="26.7">不是真实的我!我不是这幅鬼样子!不相信……</tspan></text></g>
<g id="n6k"><rect class="b6" x="1894" y="5960" width="436" height="99" rx="10"/><text x="1905" y="5991"><tspan x="1905">迷失了方向的我，回到了正常的轨道，我相信</tspan><tspan x="1905" dy="26.7">自己可以，重新创造另一个奇迹，就像中国，</tspan><tspan x="1905" dy="26.7">由衰败到振兴一样。</tspan></text></g>
<g id="n6l"><rect class="b6" x="1894" y="6105" width="130" height="46" rx="10"/><text x="1905" y="6136">我不再迷茫!</text></g>

<!-- related -->
<g id="r1"><rect class="b8" x="2036" y="6196" width="429" height="73" rx="10"/><text x="2047" y="6228"><tspan x="2047">★ 我的青春不迷茫高考话题作文600字范文5</tspan><tspan x="2047" dy="27">篇</tspan></text></g>
<g id="r2"><rect class="b8" x="2036" y="6316" width="344" height="46" rx="10"/><text x="2047" y="6346">★ 做奋斗青年克服青春迷茫作文5篇</text></g>
<g id="r3"><rect class="b8" x="2036" y="6407" width="402" height="47" rx="10"/><text x="2047" y="6438">★ 青春不迷茫作文高三600字优秀范文5篇</text></g>
<g id="r4"><rect class="b8" x="2036" y="6500" width="307" height="46" rx="10"/><text x="2047" y="6530">★ 走出迷茫优秀作文初二800字</text></g>
<g id="r5"><rect class="b8" x="2036" y="6592" width="361" height="46" rx="10"/><text x="2047" y="6622">★ 谁的青春不迷茫作文600字高三5篇</text></g>
<g id="r6"><rect class="b8" x="2036" y="6683" width="429" height="73" rx="10"/><text x="2047" y="6715"><tspan x="2047">★ 谁的青春不迷茫高考作文600字优秀范文5</tspan><tspan x="2047" dy="27">篇</tspan></text></g>
<g id="r7"><rect class="b8" x="2036" y="6802" width="357" height="46" rx="10"/><text x="2047" y="6832">★ 谁的青春不迷茫为话题的作文10篇</text></g>
<g id="r8"><rect class="b8" x="2036" y="6893" width="257" height="46" rx="10"/><text x="2047" y="6923">★ 迷茫作文精选6篇700字</text></g>
<g id="r9"><rect class="b8" x="2036" y="6985" width="402" height="46" rx="10"/><text x="2047" y="7015">★ 高三谁的青春不迷茫话题作文800字5篇</text></g>
<g id="r10"><rect class="b8" x="2036" y="7077" width="348" height="46" rx="10"/><text x="2047" y="7107">★ 谁的青春不迷茫作文600字议论文</text></g>
</g>
</svg>
